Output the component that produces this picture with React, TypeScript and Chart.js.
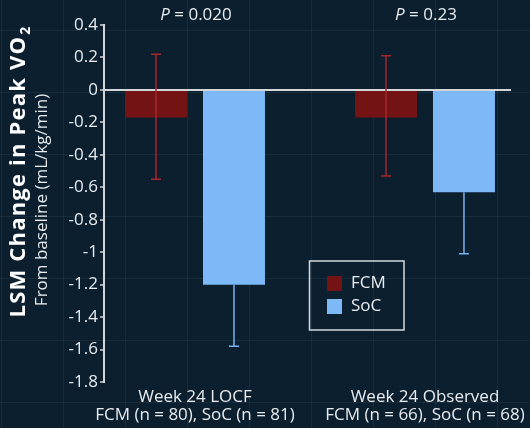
import { useEffect, useRef } from "react";
import { Chart, registerables } from "chart.js";

Chart.register(...registerables);

const FONT = '"Open Sans", "Noto Sans", sans-serif';

// Two study analyses, placed at x = 0 and x = 1 on a linear axis
const groupPositions = [0, 1];
const groupLabels = [
  ["Week 24 LOCF", "FCM (n = 80), SoC (n = 81)"],
  ["Week 24 Observed", "FCM (n = 66), SoC (n = 68)"],
];
const pValues = ["0.020", "0.23"];

// LSM change from baseline (mL/kg/min) with 95% CI limits
const fcmMeans = [-0.17, -0.17];
const fcmUpper = [0.22, 0.21];
const fcmLower = [-0.55, -0.53];
const socMeans = [-1.2, -0.63];
const socUpper: (number | null)[] = [null, null];
const socLower = [-1.58, -1.01];

const seriesNames = ["FCM", "SoC"];

const Y_MIN = -1.8;
const Y_MAX = 0.4;
const Y_STEP = 0.2;

const COLORS = {
  bg: "#0b1f2f",
  fcm: "#741313",
  fcmWhisker: "#a8262a",
  soc: "#7db8f7",
  socWhisker: "#78b2ee",
  axis: "#d4d7da",
  text: "#e8ecef",
};

const errorBars = {
  id: "errorBars",
  afterDatasetsDraw(chart: any) {
    const { ctx, scales } = chart;
    const y = scales.y;
    chart.data.datasets.forEach((ds: any, di: number) => {
      const meta = chart.getDatasetMeta(di);
      ctx.save();
      ctx.strokeStyle = ds.whiskerColor;
      ctx.lineWidth = 1.5;
      meta.data.forEach((bar: any, i: number) => {
        const hi = ds.upper[i];
        const lo = ds.lower[i];
        const mean = ds.data[i].y;
        const top = y.getPixelForValue(hi ?? mean);
        const bottom = y.getPixelForValue(lo ?? mean);
        const cx = bar.x;
        ctx.beginPath();
        ctx.moveTo(cx, top);
        ctx.lineTo(cx, bottom);
        if (hi != null) {
          ctx.moveTo(cx - 5, top);
          ctx.lineTo(cx + 5, top);
        }
        if (lo != null) {
          ctx.moveTo(cx - 5, bottom);
          ctx.lineTo(cx + 5, bottom);
        }
        ctx.stroke();
      });
      ctx.restore();
    });
  },
};

const overlays = {
  id: "overlays",
  afterDraw(chart: any) {
    const { ctx, scales } = chart;
    const x = scales.x;
    ctx.save();
    ctx.fillStyle = COLORS.text;
    ctx.textBaseline = "middle";
    ctx.textAlign = "left";

    // P values above each group
    pValues.forEach((p, i) => {
      const cx = x.getPixelForValue(groupPositions[i]);
      ctx.font = `italic 17px ${FONT}`;
      const pw = ctx.measureText("P").width;
      ctx.font = `17px ${FONT}`;
      const rest = " = " + p;
      const rw = ctx.measureText(rest).width;
      const start = cx - (pw + rw) / 2 + 1;
      ctx.font = `italic 17px ${FONT}`;
      ctx.fillText("P", start, 15);
      ctx.font = `17px ${FONT}`;
      ctx.fillText(rest, start + pw, 15);
    });

    // Y axis title (two lines, rotated)
    ctx.fillStyle = "#ffffff";
    ctx.save();
    ctx.translate(19, 172);
    ctx.rotate(-Math.PI / 2);
    (ctx as any).letterSpacing = "1.2px";
    ctx.font = `bold 22px ${FONT}`;
    const main = "LSM Change in Peak VO";
    const mw = ctx.measureText(main).width;
    ctx.font = `bold 14px ${FONT}`;
    const sw = ctx.measureText("2").width;
    const s0 = -(mw + sw) / 2;
    ctx.font = `bold 22px ${FONT}`;
    ctx.fillText(main, s0, 0);
    ctx.font = `bold 14px ${FONT}`;
    ctx.fillText("2", s0 + mw + 1, 7);
    (ctx as any).letterSpacing = "0px";
    ctx.restore();

    ctx.save();
    ctx.translate(42, 200);
    ctx.rotate(-Math.PI / 2);
    ctx.textAlign = "center";
    ctx.font = `17px ${FONT}`;
    ctx.fillStyle = COLORS.text;
    ctx.fillText("From baseline (mL/kg/min)", 0, 0);
    ctx.restore();

    // Legend box
    ctx.strokeStyle = "#d8dadc";
    ctx.lineWidth = 1.5;
    ctx.strokeRect(309.5, 261, 94.5, 69);
    ctx.font = `17px ${FONT}`;
    chart.data.datasets.forEach((ds: any, i: number) => {
      const cy = 283.5 + i * 23;
      ctx.fillStyle = ds.backgroundColor;
      ctx.fillRect(327, cy - 7.5, 15, 15);
      ctx.fillStyle = COLORS.text;
      ctx.fillText(ds.label, 351, cy);
    });

    ctx.restore();
  },
};

export default function App() {
  const canvasRef = useRef<HTMLCanvasElement | null>(null);

  useEffect(() => {
    if (!canvasRef.current) return;
    const chart = new Chart(canvasRef.current, {
      type: "bar",
      data: {
        datasets: [
          {
            label: seriesNames[0],
            data: groupPositions.map((g, i) => ({ x: g, y: fcmMeans[i] })),
            backgroundColor: COLORS.fcm,
            borderWidth: 0,
            categoryPercentage: 0.678,
            barPercentage: 0.795,
            upper: fcmUpper,
            lower: fcmLower,
            whiskerColor: COLORS.fcmWhisker,
          } as any,
          {
            label: seriesNames[1],
            data: groupPositions.map((g, i) => ({ x: g, y: socMeans[i] })),
            backgroundColor: COLORS.soc,
            borderWidth: 0,
            categoryPercentage: 0.678,
            barPercentage: 0.795,
            upper: socUpper,
            lower: socLower,
            whiskerColor: COLORS.socWhisker,
          } as any,
        ],
      },
      options: {
        animation: false,
        responsive: true,
        maintainAspectRatio: false,
        layout: { padding: { top: 25, right: 19, left: 0, bottom: 0 } },
        plugins: {
          legend: { display: false },
          tooltip: { enabled: false },
        },
        scales: {
          x: {
            type: "linear",
            offset: false,
            min: -0.3957,
            max: 1.374,
            grid: { display: false, drawTicks: false, offset: false },
            border: { display: false },
            afterBuildTicks(scale: any) {
              scale.ticks = groupPositions.map((v) => ({ value: v }));
            },
            afterFit(scale: any) {
              scale.height = 46;
              scale.paddingLeft = 0;
              scale.paddingRight = 0;
            },
            ticks: {
              autoSkip: false,
              maxRotation: 0,
              padding: 6,
              color: COLORS.text,
              font: { family: FONT, size: 17, lineHeight: "18px" },
              callback: (_v: any, i: number) => groupLabels[i],
            },
          },
          y: {
            min: Y_MIN,
            max: Y_MAX,
            z: 1,
            afterFit(scale: any) {
              scale.width = 104;
            },
            border: { display: true, color: COLORS.axis, width: 2 },
            grid: {
              drawOnChartArea: true,
              drawTicks: true,
              tickLength: 4,
              lineWidth: 2,
              color: (c: any) => (c.tick && c.tick.value === 0 ? COLORS.axis : "rgba(0,0,0,0)"),
              tickColor: COLORS.axis,
              tickWidth: 1.5,
            },
            ticks: {
              stepSize: Y_STEP,
              padding: 2,
              color: COLORS.text,
              font: { family: FONT, size: 17 },
              callback: (v: any) => String(Number(Number(v).toFixed(1))),
            },
          },
        },
      },
      plugins: [errorBars, overlays],
    });
    return () => chart.destroy();
  }, []);

  return (
    <div
      style={{
        position: "fixed",
        left: 0,
        top: 0,
        width: 530,
        height: 428,
        backgroundColor: COLORS.bg,
        backgroundImage:
          "linear-gradient(to right, rgba(140,170,195,0.09) 1px, transparent 1px), linear-gradient(to bottom, rgba(140,170,195,0.09) 1px, transparent 1px)",
        backgroundSize: "62px 62px",
        backgroundPosition: "1px 30px",
      }}
    >
      <canvas ref={canvasRef} />
    </div>
  );
}
